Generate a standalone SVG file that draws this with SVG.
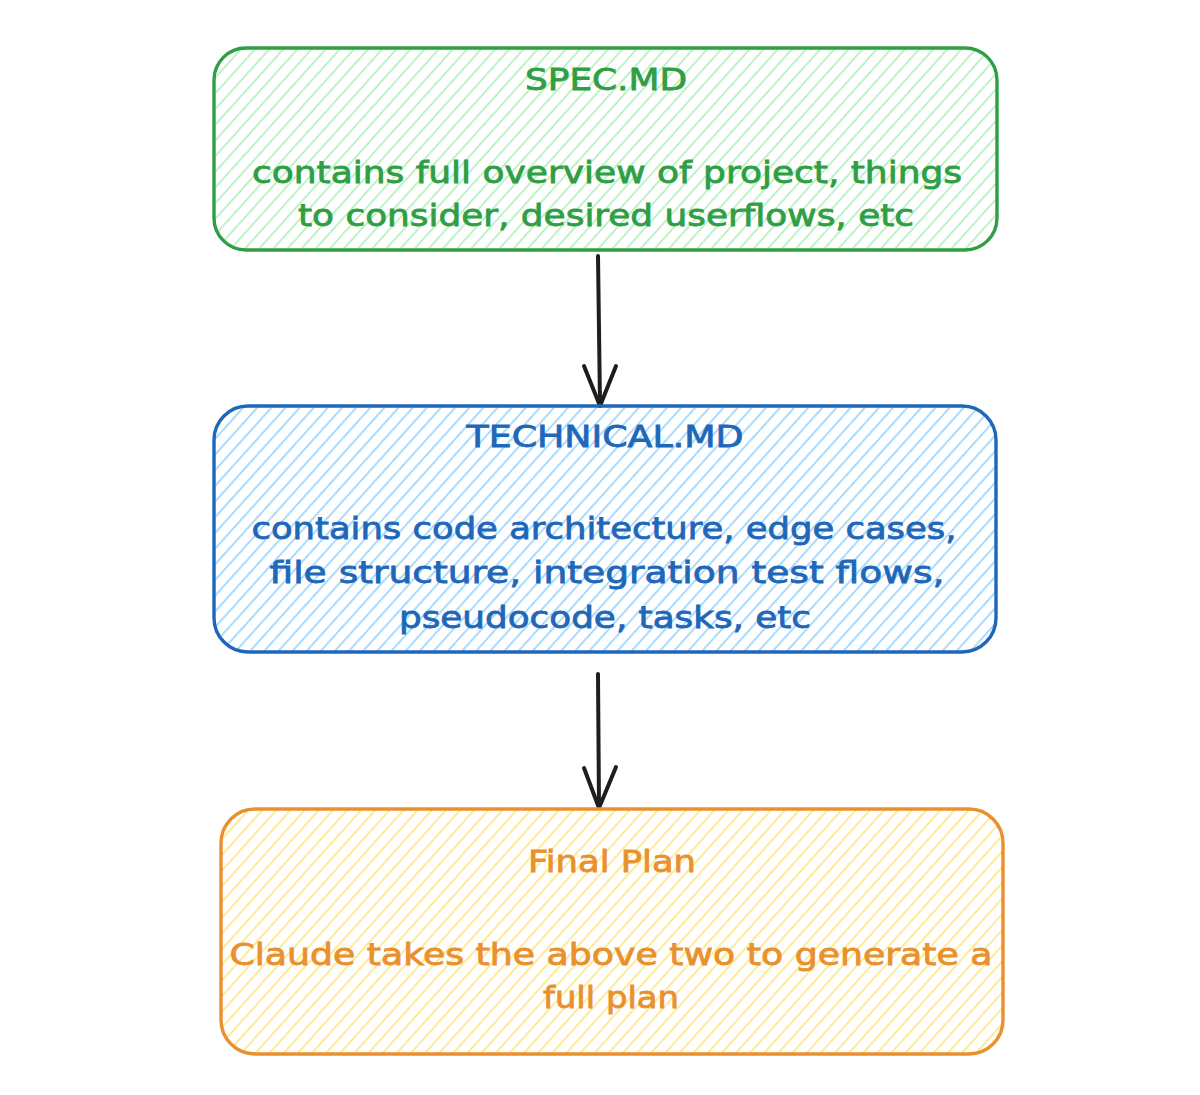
<svg xmlns="http://www.w3.org/2000/svg" width="1200" height="1095" viewBox="0 0 1200 1095">
  <style>
    .box { stroke-width: 3.4; stroke-linejoin: round; }
    .t { font-family: "DejaVu Sans", "Noto Sans", sans-serif; font-size: 30px; text-anchor: middle; stroke-width: 0.8; }
    .green .box { stroke: #2f9e44; fill: url(#hGreen); }
    .green text { fill: #2f9e44; stroke: #2f9e44; }
    .blue .box { stroke: #1f67b8; fill: url(#hBlue); }
    .blue text { fill: #1f67b8; stroke: #1f67b8; }
    .orange .box { stroke: #e8912e; fill: url(#hOrange); }
    .orange text { fill: #e8912e; stroke: #e8912e; }
    .conn { stroke: #1e1e1e; stroke-width: 4; fill: none; stroke-linecap: round; stroke-linejoin: round; }
  </style>
  <defs>
    <pattern id="hGreen" patternUnits="userSpaceOnUse" width="10.5" height="20" patternTransform="rotate(42)">
      <line x1="2" y1="-1" x2="2" y2="21" stroke="#b2f2bb" stroke-width="1.7"/>
    </pattern>
    <pattern id="hBlue" patternUnits="userSpaceOnUse" width="10.5" height="20" patternTransform="rotate(42)">
      <line x1="2" y1="-1" x2="2" y2="21" stroke="#a5d8ff" stroke-width="1.9"/>
    </pattern>
    <pattern id="hOrange" patternUnits="userSpaceOnUse" width="10.5" height="20" patternTransform="rotate(42)">
      <line x1="2" y1="-1" x2="2" y2="21" stroke="#ffe98f" stroke-width="1.9"/>
    </pattern>
  </defs>
  <rect width="1200" height="1095" fill="#ffffff"/>

  <g id="connectors">
    <g id="arrow-spec-technical">
      <path class="conn" d="M598 256 L600 404"/>
      <path class="conn" d="M584 366 L600 406 L616 366"/>
    </g>
    <g id="arrow-technical-final">
      <path class="conn" d="M598 674 L599 806"/>
      <path class="conn" d="M584 768 L599 808 L616 767"/>
    </g>
  </g>

  <g id="node-spec" class="green">
    <rect class="box" x="214" y="48" width="783" height="202" rx="32" ry="32"/>
    <text class="t" x="606" y="90" textLength="162" lengthAdjust="spacingAndGlyphs">SPEC.MD</text>
    <text class="t" x="607" y="183" textLength="710" lengthAdjust="spacingAndGlyphs">contains full overview of project, things</text>
    <text class="t" x="606" y="226" textLength="616" lengthAdjust="spacingAndGlyphs">to consider, desired userflows, etc</text>
  </g>

  <g id="node-technical" class="blue">
    <rect class="box" x="214" y="406" width="782" height="246" rx="34" ry="34"/>
    <text class="t" x="605" y="447" textLength="277" lengthAdjust="spacingAndGlyphs">TECHNICAL.MD</text>
    <text class="t" x="604" y="539" textLength="705" lengthAdjust="spacingAndGlyphs">contains code architecture, edge cases,</text>
    <text class="t" x="607" y="583" textLength="675" lengthAdjust="spacingAndGlyphs">file structure, integration test flows,</text>
    <text class="t" x="605" y="628" textLength="412" lengthAdjust="spacingAndGlyphs">pseudocode, tasks, etc</text>
  </g>

  <g id="node-final" class="orange">
    <rect class="box" x="221" y="809" width="782" height="245" rx="34" ry="34"/>
    <text class="t" x="612" y="872" textLength="168" lengthAdjust="spacingAndGlyphs">Final Plan</text>
    <text class="t" x="611" y="965" textLength="763" lengthAdjust="spacingAndGlyphs">Claude takes the above two to generate a</text>
    <text class="t" x="611" y="1008" textLength="136" lengthAdjust="spacingAndGlyphs">full plan</text>
  </g>
</svg>
